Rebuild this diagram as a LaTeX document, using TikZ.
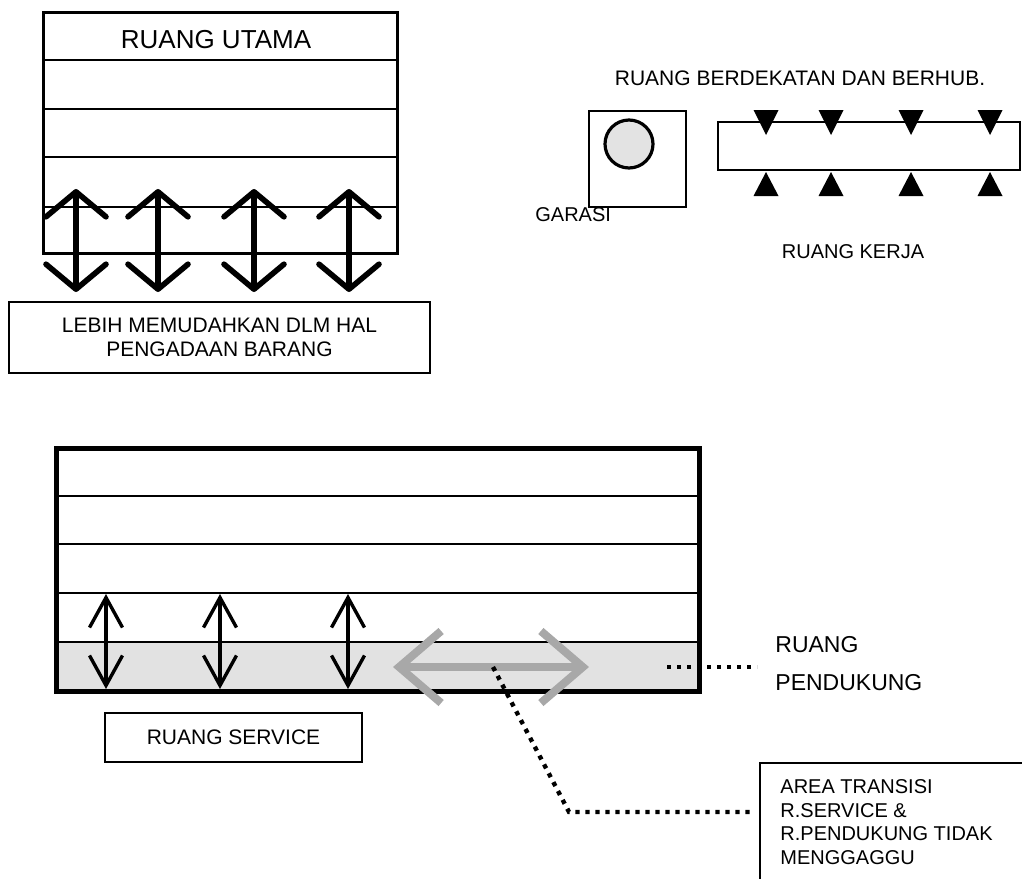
\documentclass[tikz,border=0pt]{standalone}
\usepackage{fontspec}
\setmainfont{Liberation Sans}
\usetikzlibrary{
  arrows.meta,
  positioning
}
\definecolor{bandgray}{RGB}{226,226,226}
\definecolor{transgray}{RGB}{168,168,168}

\begin{document}
\begin{tikzpicture}[x=0.5pt, y=-0.5pt,
  roomline/.style={line width=1pt},
  labelbox/.style={draw, line width=1pt, inner sep=0pt, align=center, font=\fontsize{10.5}{12}\selectfont},
  plaintext/.style={inner sep=0pt, font=\fontsize{10.5}{12}\selectfont},
  bigupdown/.style={line width=2.8pt, line cap=round, {Straight Barb[round,length=12.5pt,width=30pt]}-{Straight Barb[round,length=12.5pt,width=30pt]}},
  smallupdown/.style={line width=1.7pt, line cap=round, {Straight Barb[length=15pt,width=16.5pt]}-{Straight Barb[length=15pt,width=16.5pt]}},
  dotline/.style={line width=2.2pt, dash pattern=on 2.2pt off 2.8pt}]
  \useasboundingbox (0,0) rectangle (1022,879);
  % ruang utama
  \draw[line width=1.5pt] (43,12) rectangle (397,253);
  \foreach \y in {60,109,157,207} {
    \draw[roomline] (43,\y) -- (397,\y);
  }
  \node[plaintext, font=\fontsize{13}{15}\selectfont] (utama) at (216,40) {RUANG UTAMA};
  \node[labelbox, minimum width=210.5pt, minimum height=35.5pt] (mudah) at (219.5,337.5) {LEBIH MEMUDAHKAN DLM HAL\\PENGADAAN BARANG};
  \foreach \x [count=\i] in {76,158,254,349} {
    \coordinate (ua\i) at (\x,189);
    \coordinate (ub\i) at (\x,292);
    \draw[bigupdown] (ua\i) -- (ub\i);
  }
  % garasi dan ruang kerja
  \node[plaintext] (dekat) at (800,78) {RUANG BERDEKATAN DAN BERHUB.};
  \draw[roomline] (589,111) rectangle (686,207);
  \draw[line width=1.6pt, fill=gray!22] (629,144) circle [radius=24];
  \node[plaintext, font=\fontsize{10}{12}\selectfont, anchor=west] (garasi) at (535,215) {GARASI};
  \draw[roomline] (718,122) rectangle (1020,170);
  \foreach \x in {766,831,911,990} {
    \fill (\x-12.5,110) -- (\x+12.5,110) -- (\x,135) -- cycle;
    \fill (\x-12.5,196) -- (\x+12.5,196) -- (\x,172) -- cycle;
  }
  \node[plaintext, font=\fontsize{10}{12}\selectfont] (kerja) at (853,252) {RUANG KERJA};
  % ruang service dan pendukung
  \fill[bandgray] (56,642) rectangle (699,691);
  \foreach \y in {496,544,593,642} {
    \draw[roomline] (56,\y) -- (699,\y);
  }
  \draw[line width=2.5pt] (56,448) rectangle (699,691);
  \foreach \x [count=\i] in {106,220,348} {
    \coordinate (sa\i) at (\x,594);
    \coordinate (sb\i) at (\x,689);
    \draw[smallupdown] (sa\i) -- (sb\i);
  }
  \coordinate (ta) at (393,667);
  \coordinate (tb) at (589,667);
  \draw[transgray, line width=4pt, {Straight Barb[length=21pt,width=36pt]}-{Straight Barb[length=21pt,width=36pt]}] (ta) -- (tb);
  \node[labelbox, minimum width=128.5pt, minimum height=24.5pt] (service) at (233.5,737.5) {RUANG SERVICE};
  \node[plaintext, font=\fontsize{11.5}{13}\selectfont, anchor=west] (ruang) at (775,645) {RUANG};
  \node[plaintext, font=\fontsize{11.5}{13}\selectfont, anchor=west] (pendukung) at (775,683) {PENDUKUNG};
  \coordinate (pa) at (667,667);
  \coordinate (pb) at (757,667);
  \draw[dotline] (pa) -- (pb);
  % area transisi
  \draw[roomline] (1022,763) -- (760,763) -- (760,879);
  \node[plaintext, font=\fontsize{10}{11.7}\selectfont, align=left, anchor=west] (transisi) at (780,822) {AREA TRANSISI\\R.SERVICE \&\\R.PENDUKUNG TIDAK\\MENGGAGGU};
  \coordinate (da) at (493,667);
  \coordinate (db) at (569,812);
  \coordinate (dc) at (755,812);
  \draw[dotline] (da) -- (db) -- (dc);
\end{tikzpicture}
\end{document}
